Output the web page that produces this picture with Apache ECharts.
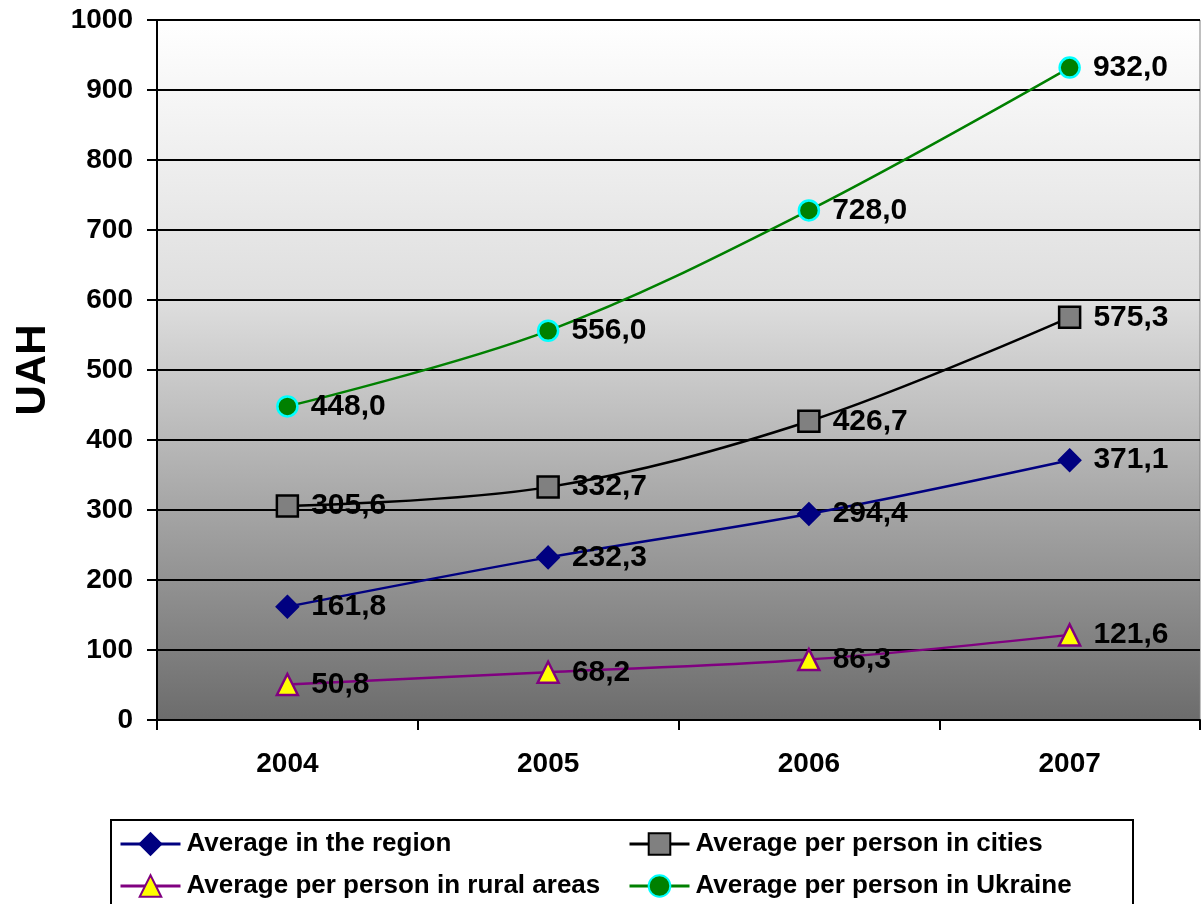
<!DOCTYPE html>
<html>
<head>
<meta charset="utf-8">
<script src="https://cdn.jsdelivr.net/npm/echarts@6/dist/echarts.min.js"></script>
<style>
html,body{margin:0;padding:0;background:#fff;}
#chart{width:1202px;height:904px;}
</style>
</head>
<body>
<div id="chart"></div>
<script>
const years = ['2004', '2005', '2006', '2007'];
const regionAvg = [161.8, 232.3, 294.4, 371.1];
const citiesAvg = [305.6, 332.7, 426.7, 575.3];
const ruralAvg = [50.8, 68.2, 86.3, 121.6];
const ukraineAvg = [448.0, 556.0, 728.0, 932.0];
const yTicks = { min: 0, max: 1000, interval: 100 };

const FONT = '"Liberation Sans", Arial, sans-serif';

const chart = echarts.init(document.getElementById('chart'), null, { renderer: 'canvas' });

function mkLabel(dist) {
  return {
    show: true,
    position: 'right',
    distance: dist,
    fontFamily: FONT,
    fontWeight: 'bold',
    fontSize: 30,
    color: '#000',
    formatter: p => p.value.toFixed(1).replace('.', ',')
  };
}

function mkSeries(name, data, color, symbol, size, fill, border, dist) {
  return {
    name: name,
    type: 'line',
    data: data,
    smooth: 0.35,
    symbol: symbol,
    symbolSize: size,
    lineStyle: { color: color, width: 2.5 },
    itemStyle: { color: fill, borderColor: border, borderWidth: 2.5 },
    label: mkLabel(dist),
    emphasis: { disabled: true },
    z: 3
  };
}

const legendCommon = {
  orient: 'vertical',
  top: 831,
  padding: 0,
  itemWidth: 60,
  itemHeight: 27,
  itemGap: 16,
  selectedMode: false,
  lineStyle: { width: 3 },
  textStyle: { fontFamily: FONT, fontWeight: 'bold', fontSize: 26, color: '#000', padding: [0, 0, 0, 1] }
};

chart.setOption({
  animation: false,
  backgroundColor: '#ffffff',
  grid: {
    left: 157, top: 20, right: 2, bottom: 184,
    show: true,
    borderColor: '#808080',
    borderWidth: 1,
    backgroundColor: new echarts.graphic.LinearGradient(0, 0, 0, 1, [
      { offset: 0, color: '#ffffff' },
      { offset: 0.4, color: '#dedede' },
      { offset: 0.7, color: '#a5a5a5' },
      { offset: 1, color: '#6c6c6c' }
    ])
  },
  xAxis: {
    type: 'category',
    data: years,
    boundaryGap: true,
    axisLine: { lineStyle: { color: '#000', width: 2 } },
    axisTick: { show: true, length: 10, lineStyle: { color: '#000', width: 2 } },
    axisLabel: { fontFamily: FONT, fontWeight: 'bold', fontSize: 28, color: '#000', margin: 30 },
    splitLine: { show: false }
  },
  yAxis: {
    type: 'value',
    min: yTicks.min,
    max: yTicks.max,
    interval: yTicks.interval,
    name: 'UAH',
    nameLocation: 'middle',
    nameRotate: 90,
    nameGap: 103,
    nameTextStyle: { fontFamily: FONT, fontWeight: 'bold', fontSize: 42, color: '#000' },
    axisLine: { show: true, lineStyle: { color: '#000', width: 2 } },
    axisTick: { show: true, length: 10, lineStyle: { color: '#000', width: 2 } },
    axisLabel: { fontFamily: FONT, fontWeight: 'bold', fontSize: 28, color: '#000', margin: 24, formatter: v => String(v) },
    splitLine: { show: true, lineStyle: { color: '#000', width: 2 } }
  },
  legend: [
    Object.assign({}, legendCommon, { left: 119, data: ['Average in the region', 'Average per person in rural areas'] }),
    Object.assign({}, legendCommon, { left: 628, data: ['Average per person in cities', 'Average per person in Ukraine'] })
  ],
  graphic: [{
    type: 'rect',
    shape: { x: 111, y: 820, width: 1022, height: 100 },
    style: { fill: 'rgba(0,0,0,0)', stroke: '#000', lineWidth: 2 },
    silent: true,
    z: -1
  }],
  series: [
    mkSeries('Average in the region', regionAvg, '#000080', 'diamond', 21, '#000080', '#000080', 12),
    mkSeries('Average per person in cities', citiesAvg, '#000000', 'rect', 21, '#808080', '#000000', 12),
    mkSeries('Average per person in rural areas', ruralAvg, '#800080', 'triangle', 21, '#ffff00', '#800080', 12),
    mkSeries('Average per person in Ukraine', ukraineAvg, '#008000', 'circle', 20, '#008000', '#00ffff', 12)
  ]
});
</script>
</body>
</html>
